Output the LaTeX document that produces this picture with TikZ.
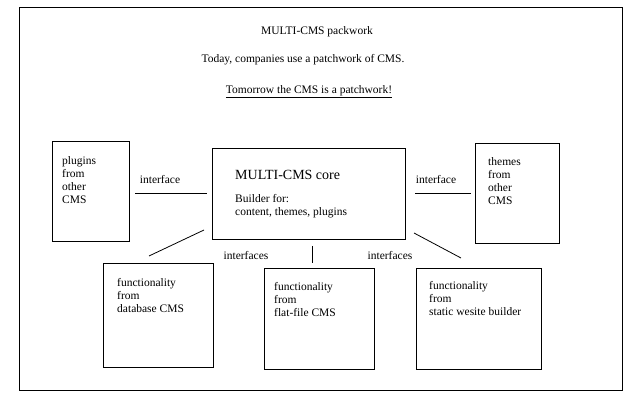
\documentclass[tikz,border=0pt]{standalone}
\usepackage{fontspec}
\setmainfont{Liberation Serif}
\begin{document}
\begin{tikzpicture}[x=1pt,y=-1pt,
  box/.style={draw,line width=0.8pt},
  txt/.style={anchor=west,inner sep=0pt,font=\fontsize{11.5}{13}\selectfont,align=left},
  lbl/.style={inner sep=0pt,font=\fontsize{11.5}{13}\selectfont},
  ln/.style={line width=0.8pt}]
\useasboundingbox (0,0) rectangle (638,403);
\draw[box] (19,7) rectangle (622,390);
\node[lbl] (t1) at (317,32) {MULTI-CMS packwork};
\node[lbl] (t2) at (303,60) {Today, companies use a patchwork of CMS.};
\node[lbl] (t3) at (309,92) {\underline{Tomorrow the CMS is a patchwork!}};
\draw[box] (52,141) rectangle (129,241);
\node[txt,anchor=north west] (l) at (62,156) {plugins\\from\\other\\CMS};
\draw[box] (212,148) rectangle (405,239);
\node[txt,font=\fontsize{14}{16}\selectfont] (c1) at (235,175) {MULTI-CMS core};
\node[txt,anchor=north west] (c2) at (235,194) {Builder for:\\content, themes, plugins};
\draw[box] (475,143) rectangle (559,243);
\node[txt,anchor=north west] (r) at (488,157) {themes\\from\\other\\CMS};
\draw[box] (103,263) rectangle (213,367);
\node[txt,anchor=north west] (b1) at (117,278) {functionality\\from\\database CMS};
\draw[box] (264,268) rectangle (374,369);
\node[txt,anchor=north west] (b2) at (274,282) {functionality\\from\\flat-file CMS};
\draw[box] (416,268) rectangle (541,369);
\node[txt,anchor=north west] (b3) at (429,281) {functionality\\from\\static wesite builder};
\coordinate (a1) at (135,193); \coordinate (a2) at (207,193);
\coordinate (a3) at (415,193); \coordinate (a4) at (471,193);
\coordinate (d1) at (149,256); \coordinate (d2) at (204,230);
\coordinate (v1) at (312,246); \coordinate (v2) at (312,263);
\coordinate (e1) at (414,233); \coordinate (e2) at (461,258);
\draw[ln] (a1) -- (a2); \draw[ln] (a3) -- (a4);
\draw[ln] (d1) -- (d2); \draw[ln] (v1) -- (v2); \draw[ln] (e1) -- (e2);
\node[lbl] (i1) at (160,180) {interface};
\node[lbl] (i2) at (436,180) {interface};
\node[lbl] (i3) at (246,256) {interfaces};
\node[lbl] (i4) at (390,256) {interfaces};
\end{tikzpicture}
\end{document}
